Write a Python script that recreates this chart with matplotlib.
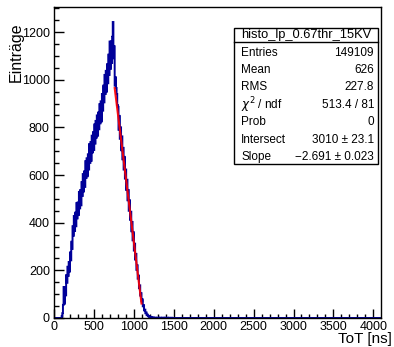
import numpy as np
import matplotlib
matplotlib.use("Agg")
import matplotlib.pyplot as plt
from matplotlib.patches import Rectangle
from matplotlib.ticker import MultipleLocator

plt.rcParams['font.family'] = ['Liberation Sans', 'DejaVu Sans']

# histogram content, 8 ns bins starting at 96 ns
bin_width = 8
first_edge = 96
counts = [
    8, 20, 55, 130, 60, 130, 95, 180, 148, 215, 177, 235, 195, 275, 242, 320,
    290, 385, 345, 428, 365, 442, 385, 482, 418, 485, 432, 529, 460, 537, 473, 570,
    512, 604, 531, 615, 550, 658, 588, 670, 595, 687, 623, 730, 651, 738, 660, 765,
    695, 780, 705, 812, 732, 827, 757, 850, 765, 862, 792, 897, 817, 909, 825, 940,
    870, 975, 905, 1020, 940, 1037, 950, 1065, 985, 1105, 1020, 1160, 1045, 1160, 1070, 1180,
    1242, 1090, 1140, 975, 1010, 965, 940, 893, 886, 790, 848, 752, 800, 704, 762, 666,
    714, 623, 676, 585, 623, 537, 580, 494, 537, 450, 494, 412, 446, 364, 403, 326,
    360, 283, 312, 245, 269, 202, 221, 165, 178, 125, 137, 94, 104, 70, 78, 49,
    54, 32, 35, 20, 23, 12, 14, 8, 7, 6, 5, 4, 3, 3, 2, 2,
    2, 1, 1, 1, 0, 1, 1, 0, 1, 0, 1, 1, 0, 1, 0, 0,
    1, 0, 1, 0, 0, 1, 0, 0, 1, 0, 0, 0, 1, 0, 0, 0,
]
x_max = 4096

# fit result (pol1)
fit_intersect = 3010
fit_slope = -2.691
fit_range = [760, 1096]

hist_name = "histo_lp_0.67thr_15KV"
stat_labels = ["Entries", "Mean", "RMS", r"$\chi^2$ / ndf", "Prob", "Intersect", "Slope"]
stat_values = ["149109", "626", "227.8", "513.4 / 81", "0", "3010 \u00b1 23.1",
               "\u22122.691 \u00b1 0.023"]

W, H = 394, 347
fig = plt.figure(figsize=(W / 100, H / 100), dpi=100)
ax = fig.add_axes([54 / W, 1 - 318 / H, 327 / W, 311 / H])

edges = np.arange(0, x_max + bin_width, bin_width)
values = np.zeros(len(edges) - 1)
i0 = first_edge // bin_width
values[i0:i0 + len(counts)] = counts
ax.stairs(values, edges, color="#000099", lw=1.4, zorder=2)

fx = np.array(fit_range, dtype=float)
ax.plot(fx, fit_intersect + fit_slope * fx, color="red", lw=1.5, alpha=0.9, zorder=3)

ax.set_xlim(0, x_max)
ax.set_ylim(0, 1305)
ax.xaxis.set_major_locator(MultipleLocator(500))
ax.xaxis.set_minor_locator(MultipleLocator(100))
ax.yaxis.set_major_locator(MultipleLocator(200))
ax.yaxis.set_minor_locator(MultipleLocator(50))
ax.tick_params(which="both", top=False, right=False)
ax.tick_params(axis="x", which="major", direction="in", length=6.5, width=1, labelsize=9, pad=2)
ax.tick_params(axis="x", which="minor", direction="in", length=3.2, width=1)
ax.tick_params(axis="y", which="major", direction="in", length=7.5, width=1, labelsize=9, pad=3)
ax.tick_params(axis="y", which="minor", direction="in", length=3.8, width=1)
for s in ax.spines.values():
    s.set_linewidth(1)
    s.set_zorder(4)

fig.text(392 / W, 1 - 332 / H, "ToT [ns]", ha="right", va="top", fontsize=11)
fig.text(16 / W, 1 - 22 / H, "Einträge", ha="center", va="top", rotation=90, fontsize=11.5)

# stats box
bx0, bx1, by0, by1 = 234, 378, 28, 164
fig.patches.append(Rectangle((bx0 / W, 1 - by1 / H), (bx1 - bx0) / W, (by1 - by0) / H,
                             transform=fig.transFigure, fc="white", ec="black", lw=1))
fig.add_artist(plt.Line2D([bx0 / W, bx1 / W], [1 - 42 / H, 1 - 42 / H],
                          transform=fig.transFigure, color="black", lw=1))
fig.text((bx0 + bx1) / 2 / W, 1 - 35 / H, hist_name, ha="center", va="center", fontsize=9.3)
row_y = [52.5, 70, 87.5, 105, 122, 139.5, 157]
for lab, val, yy in zip(stat_labels, stat_values, row_y):
    fig.text(241 / W, 1 - yy / H, lab, ha="left", va="center", fontsize=8.5)
    fig.text(374 / W, 1 - yy / H, val, ha="right", va="center", fontsize=8.5)

fig.savefig("out.png", dpi=100)
